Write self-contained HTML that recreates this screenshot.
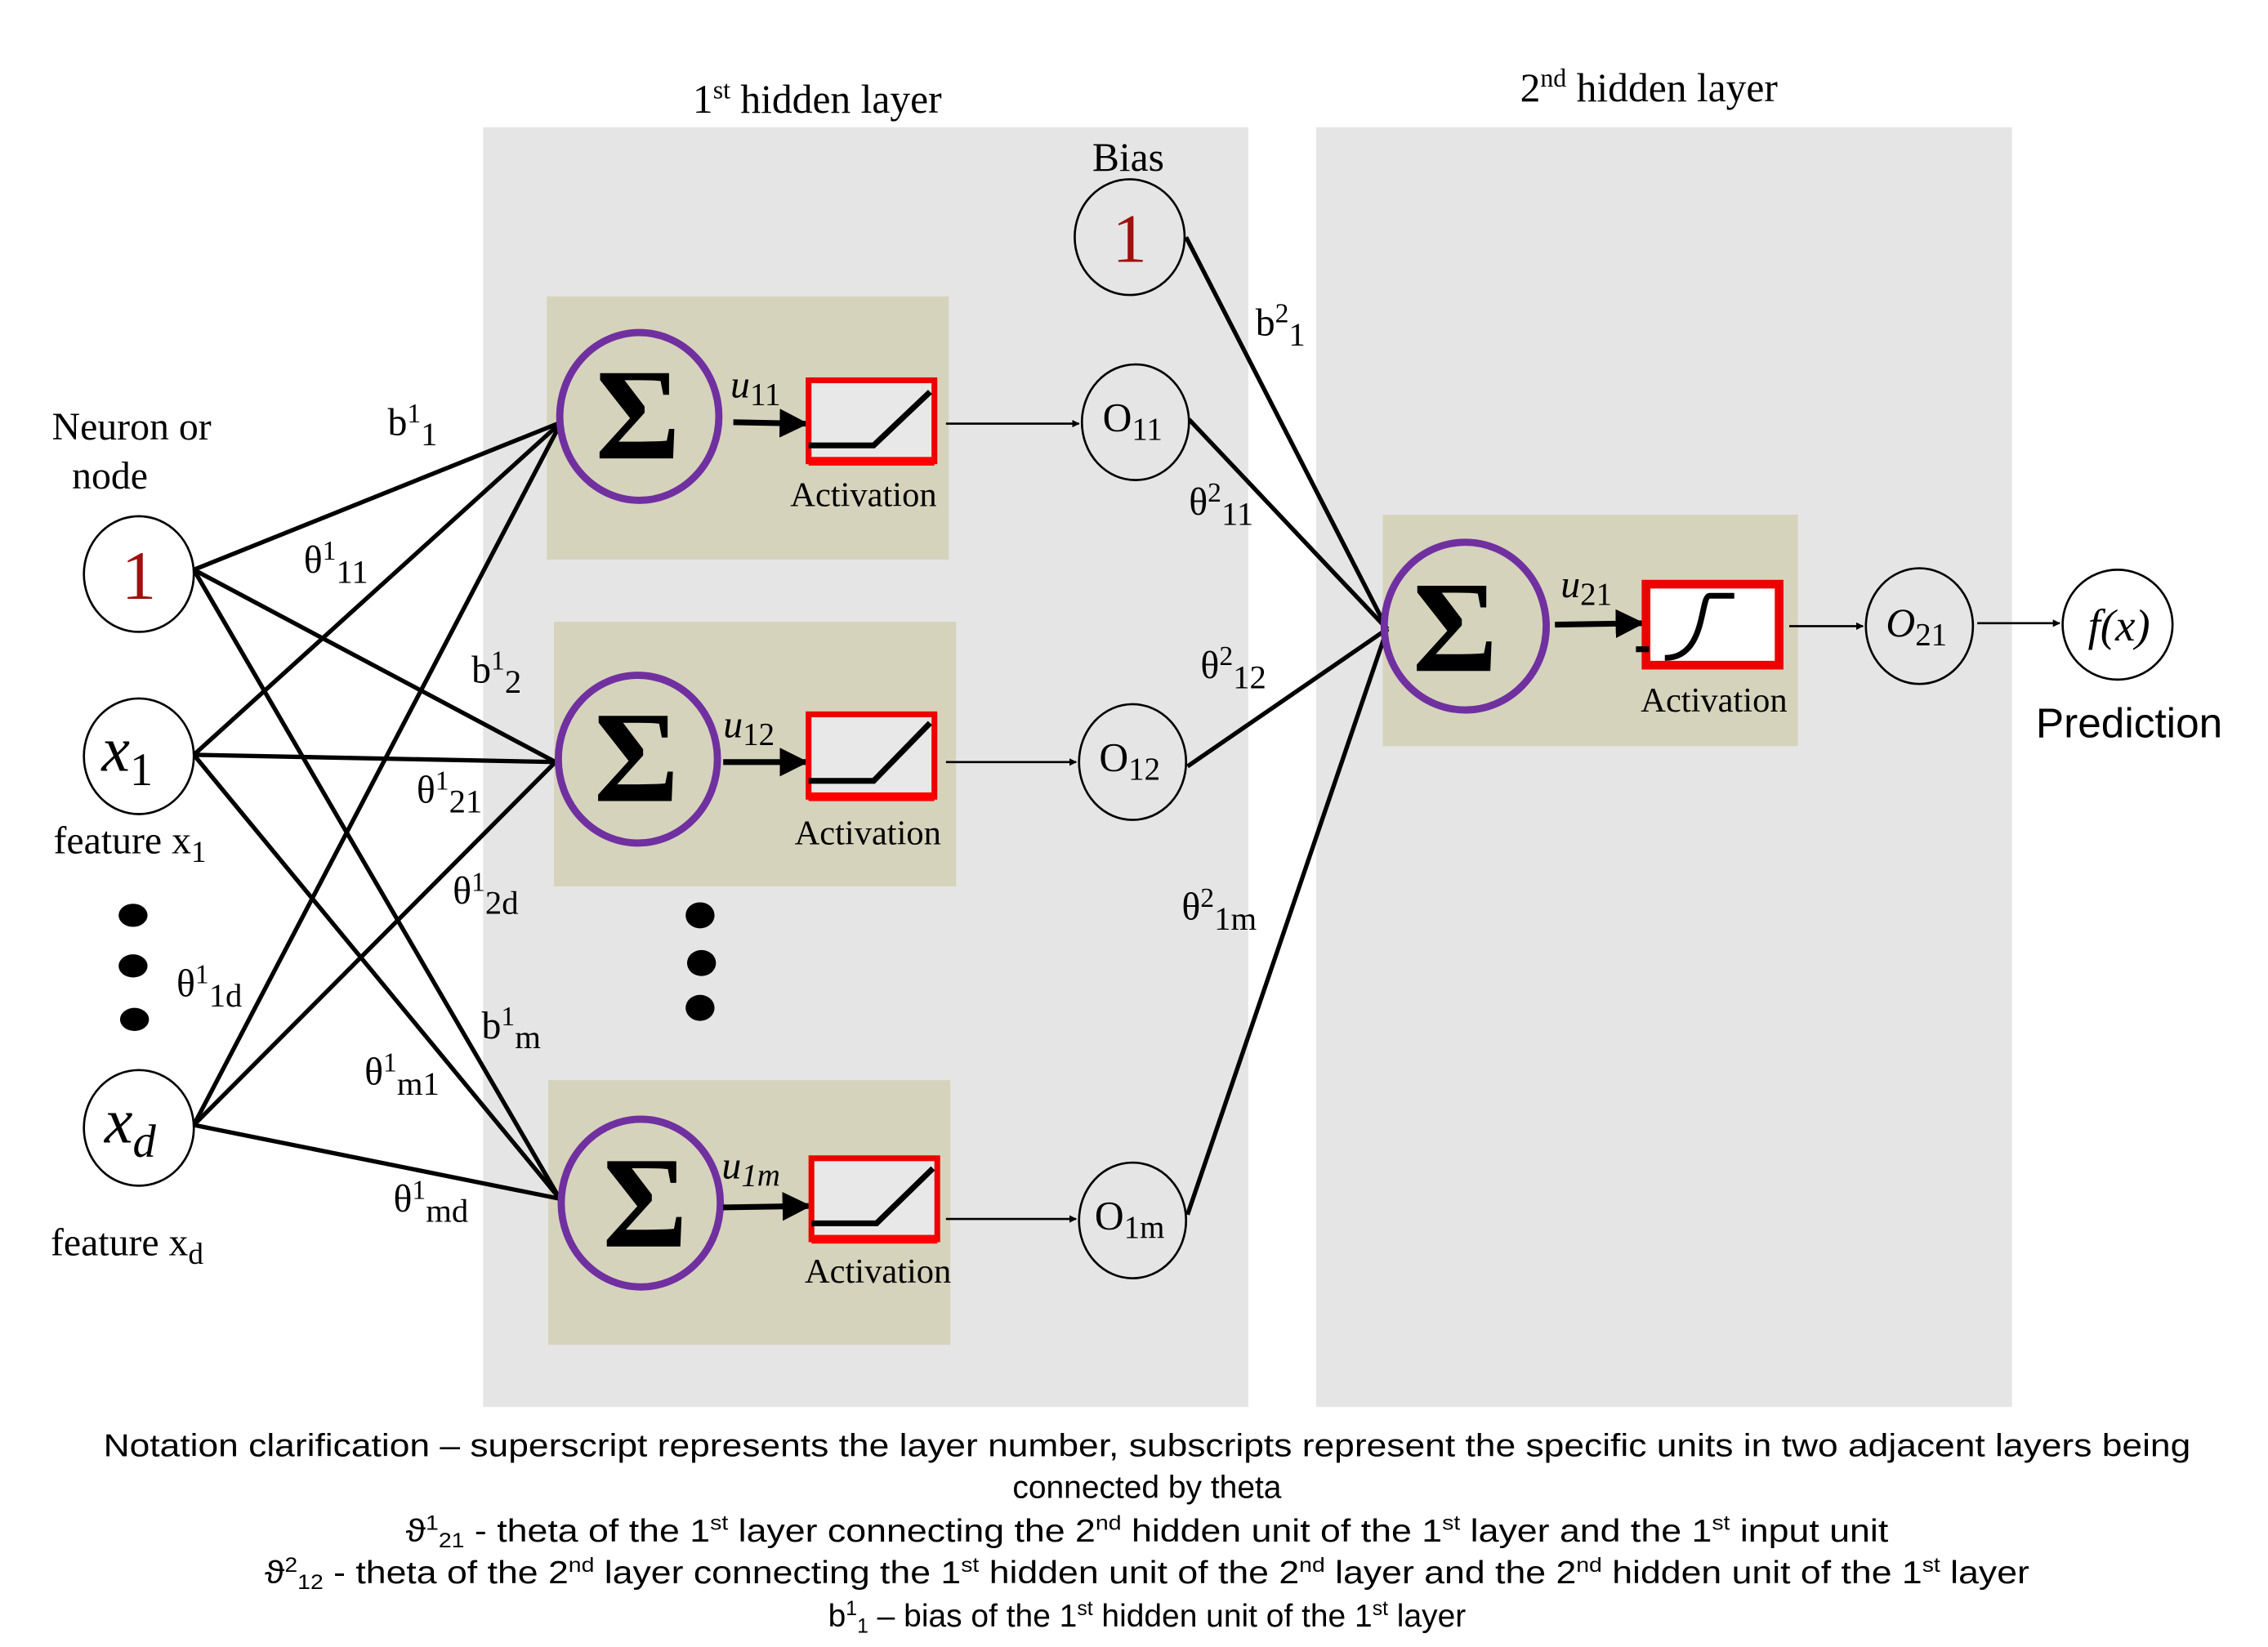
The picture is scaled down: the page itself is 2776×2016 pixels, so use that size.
<!DOCTYPE html>
<html><head><meta charset="utf-8"><style>
html,body{margin:0;padding:0;background:#fff;}
svg{display:block;}
.s{font-family:"Liberation Serif",serif;}
.a{font-family:"Liberation Sans",sans-serif;}
</style></head><body>
<svg width="2776" height="2016" viewBox="0 0 1568 1139" preserveAspectRatio="none" xmlns="http://www.w3.org/2000/svg">
<defs>
<marker id="ah" viewBox="0 0 10 10" refX="9" refY="5" markerWidth="5" markerHeight="5" orient="auto-start-reverse"><path d="M0,0 L10,5 L0,10 z" fill="#000"/></marker>
<marker id="ah2" viewBox="0 0 10 10" refX="9" refY="5" markerWidth="3.5" markerHeight="3.5" orient="auto"><path d="M0,0 L10,5 L0,10 z" fill="#000"/></marker>
</defs>
<rect width="1568" height="1139" fill="#fff"/>
<rect x="334" y="88" width="529" height="885" fill="#e5e5e5"/>
<rect x="910" y="88" width="481" height="885" fill="#e5e5e5"/>
<text class="s" x="565" y="78" font-size="28" text-anchor="middle">1<tspan font-size="18" dy="-10">st</tspan><tspan dy="10"> hidden layer</tspan></text>
<text class="s" x="1140" y="70" font-size="28" text-anchor="middle">2<tspan font-size="18" dy="-10">nd</tspan><tspan dy="10"> hidden layer</tspan></text>
<rect x="378" y="205" width="278" height="182" fill="#d6d3bc"/>
<rect x="383" y="430" width="278" height="183" fill="#d6d3bc"/>
<rect x="379" y="747" width="278" height="183" fill="#d6d3bc"/>
<rect x="956" y="356" width="287" height="160" fill="#d6d3bc"/>
<g stroke="#000" stroke-width="3" fill="none">
<line x1="134" y1="394" x2="388" y2="292"/>
<line x1="134" y1="394" x2="384" y2="527"/>
<line x1="134" y1="394" x2="387" y2="829"/>
<line x1="134" y1="522" x2="388" y2="292"/>
<line x1="134" y1="522" x2="384" y2="527"/>
<line x1="134" y1="522" x2="387" y2="829"/>
<line x1="134" y1="778" x2="388" y2="292"/>
<line x1="134" y1="778" x2="384" y2="527"/>
<line x1="134" y1="778" x2="387" y2="829"/>
<line x1="820" y1="164" x2="959" y2="435"/>
<line x1="822" y1="290" x2="959" y2="435"/>
<line x1="821" y1="530" x2="959" y2="435"/>
<line x1="821" y1="840" x2="959" y2="435"/>
</g>
<g fill="none" stroke="#7030a0" stroke-width="5">
<ellipse cx="442" cy="288" rx="55" ry="58"/>
<ellipse cx="441" cy="525" rx="55" ry="58"/>
<ellipse cx="443" cy="832" rx="55" ry="58"/>
<ellipse cx="1013" cy="433" rx="56" ry="58"/>
</g>
<g class="s" font-size="90" font-weight="bold" text-anchor="middle">
<text x="441" y="317">Σ</text>
<text x="440" y="554">Σ</text>
<text x="446" y="862">Σ</text>
<text x="1006" y="464">Σ</text>
</g>
<g stroke="#000" stroke-width="4" marker-end="url(#ah)">
<line x1="507" y1="292" x2="557" y2="293"/>
<line x1="500" y1="527" x2="557" y2="527"/>
<line x1="500" y1="835" x2="559" y2="834"/>
<line x1="1075" y1="432" x2="1135" y2="431"/>
</g>
<g class="s" font-size="27" font-style="italic">
<text x="505" y="275">u<tspan font-size="22" dy="5" font-style="normal">11</tspan></text>
<text x="500" y="510">u<tspan font-size="22" dy="5" font-style="normal">12</tspan></text>
<text x="499" y="815">u<tspan font-size="22" dy="5">1m</tspan></text>
<text x="1079" y="413">u<tspan font-size="22" dy="5" font-style="normal">21</tspan></text>
</g>
<g fill="#e8e8e8" stroke="#e00" stroke-width="4">
<rect x="559" y="263" width="87" height="56"/>
<rect x="559" y="494" width="87" height="57"/>
<rect x="561" y="801" width="87" height="56"/>
<rect x="1138" y="404" width="92" height="56" fill="#fff" stroke-width="6"/>
</g>
<g fill="#f00">
<rect x="559" y="316" width="87" height="6"/>
<rect x="559" y="548" width="87" height="6"/>
<rect x="561" y="854" width="87" height="6"/>
</g>
<g stroke="#000" stroke-width="4" fill="none">
<polyline points="559,308 604,308 643,271"/>
<polyline points="559,540 604,540 643,500"/>
<polyline points="561,846 606,846 645,808"/>
<path d="M1151,455 C1180,455 1175,412 1182,412 L1199,412"/>
<line x1="1131" y1="449" x2="1140" y2="449"/>
</g>
<g class="s" font-size="24" text-anchor="middle">
<text x="597" y="350">Activation</text>
<text x="600" y="584">Activation</text>
<text x="607" y="887">Activation</text>
<text x="1185" y="492">Activation</text>
</g>
<g stroke="#000" stroke-width="1.5" marker-end="url(#ah2)">
<line x1="654" y1="293" x2="746" y2="293"/>
<line x1="654" y1="527" x2="744" y2="527"/>
<line x1="654" y1="843" x2="744" y2="843"/>
<line x1="1237" y1="433" x2="1288" y2="433"/>
<line x1="1367" y1="431" x2="1424" y2="431"/>
</g>
<g fill="#fff" stroke="#000" stroke-width="1.5">
<ellipse cx="96" cy="397" rx="38" ry="40"/>
<ellipse cx="96" cy="523" rx="38" ry="40"/>
<ellipse cx="96" cy="780" rx="38" ry="40"/>
<ellipse cx="1464" cy="432" rx="38" ry="38"/>
</g>
<g fill="#e5e5e5" stroke="#000" stroke-width="1.5">
<ellipse cx="781" cy="164" rx="38" ry="40"/>
<ellipse cx="785" cy="292" rx="37" ry="40"/>
<ellipse cx="783" cy="527" rx="37" ry="40"/>
<ellipse cx="783" cy="844" rx="37" ry="40"/>
<ellipse cx="1327" cy="433" rx="37" ry="40"/>
</g>
<g class="s" text-anchor="middle">
<text x="96" y="414" font-size="48" fill="#a01010">1</text>
<text x="781" y="181" font-size="48" fill="#a01010">1</text>
<text x="88" y="533" font-size="44" font-style="italic">x<tspan font-size="32" dy="10" font-style="normal">1</tspan></text>
<text x="90" y="790" font-size="44" font-style="italic">x<tspan font-size="32" dy="10">d</tspan></text>
<text x="783" y="298" font-size="28">O<tspan font-size="22" dy="6">11</tspan></text>
<text x="781" y="533" font-size="28">O<tspan font-size="22" dy="6">12</tspan></text>
<text x="781" y="850" font-size="28">O<tspan font-size="22" dy="6">1m</tspan></text>
<text x="1325" y="440" font-size="28" font-style="italic">O<tspan font-size="22" dy="6" font-style="normal">21</tspan></text>
<text x="1465" y="443" font-size="31" font-style="italic">f(x)</text>
<text x="780" y="118" font-size="28">Bias</text>
<text x="91" y="304" font-size="27">Neuron or</text>
<text x="76" y="338" font-size="27">node</text>
</g>
<text class="s" x="37" y="590" font-size="27">feature x<tspan font-size="21" dy="6">1</tspan></text>
<text class="s" x="35" y="868" font-size="27">feature x<tspan font-size="21" dy="6">d</tspan></text>
<text class="a" x="1472" y="510" font-size="29" text-anchor="middle">Prediction</text>
<g fill="#000">
<ellipse cx="92" cy="633" rx="10" ry="8"/><ellipse cx="92" cy="668" rx="10" ry="8"/><ellipse cx="93" cy="705" rx="10" ry="8"/>
<ellipse cx="484" cy="633" rx="10" ry="9"/><ellipse cx="485" cy="666" rx="10" ry="9"/><ellipse cx="484" cy="697" rx="10" ry="9"/>
</g>
<g class="s" font-size="27">
<text x="268" y="301">b<tspan font-size="19" dy="-9">1</tspan><tspan font-size="23" dy="16">1</tspan></text>
<text x="210" y="396">θ<tspan font-size="19" dy="-9">1</tspan><tspan font-size="23" dy="16">11</tspan></text>
<text x="326" y="472">b<tspan font-size="19" dy="-9">1</tspan><tspan font-size="23" dy="16">2</tspan></text>
<text x="288" y="555">θ<tspan font-size="19" dy="-9">1</tspan><tspan font-size="23" dy="16">21</tspan></text>
<text x="313" y="625">θ<tspan font-size="19" dy="-9">1</tspan><tspan font-size="23" dy="16">2d</tspan></text>
<text x="122" y="689">θ<tspan font-size="19" dy="-9">1</tspan><tspan font-size="23" dy="16">1d</tspan></text>
<text x="333" y="718">b<tspan font-size="19" dy="-9">1</tspan><tspan font-size="23" dy="16">m</tspan></text>
<text x="252" y="750">θ<tspan font-size="19" dy="-9">1</tspan><tspan font-size="23" dy="16">m1</tspan></text>
<text x="272" y="838">θ<tspan font-size="19" dy="-9">1</tspan><tspan font-size="23" dy="16">md</tspan></text>
<text x="868" y="232">b<tspan font-size="19" dy="-9">2</tspan><tspan font-size="23" dy="16">1</tspan></text>
<text x="822" y="356">θ<tspan font-size="19" dy="-9">2</tspan><tspan font-size="23" dy="16">11</tspan></text>
<text x="830" y="469">θ<tspan font-size="19" dy="-9">2</tspan><tspan font-size="23" dy="16">12</tspan></text>
<text x="817" y="636">θ<tspan font-size="19" dy="-9">2</tspan><tspan font-size="23" dy="16">1m</tspan></text>
</g>
<g class="a" font-size="22" text-anchor="middle">
<text x="793" y="1007" textLength="1443" lengthAdjust="spacingAndGlyphs">Notation clarification – superscript represents the layer number, subscripts represent the specific units in two adjacent layers being</text>
<text x="793" y="1036">connected by theta</text>
<text x="793" y="1066" textLength="1025" lengthAdjust="spacingAndGlyphs">ϑ<tspan font-size="14" dy="-8">1</tspan><tspan font-size="14" dy="12">21</tspan><tspan dy="-4"> - theta of the 1</tspan><tspan font-size="14" dy="-8">st</tspan><tspan dy="8"> layer connecting the 2</tspan><tspan font-size="14" dy="-8">nd</tspan><tspan dy="8"> hidden unit of the 1</tspan><tspan font-size="14" dy="-8">st</tspan><tspan dy="8"> layer and the 1</tspan><tspan font-size="14" dy="-8">st</tspan><tspan dy="8"> input unit</tspan></text>
<text x="793" y="1095" textLength="1220" lengthAdjust="spacingAndGlyphs">ϑ<tspan font-size="14" dy="-8">2</tspan><tspan font-size="14" dy="12">12</tspan><tspan dy="-4"> - theta of the 2</tspan><tspan font-size="14" dy="-8">nd</tspan><tspan dy="8"> layer connecting the 1</tspan><tspan font-size="14" dy="-8">st</tspan><tspan dy="8"> hidden unit of the 2</tspan><tspan font-size="14" dy="-8">nd</tspan><tspan dy="8"> layer and the 2</tspan><tspan font-size="14" dy="-8">nd</tspan><tspan dy="8"> hidden unit of the 1</tspan><tspan font-size="14" dy="-8">st</tspan><tspan dy="8"> layer</tspan></text>
<text x="793" y="1125">b<tspan font-size="14" dy="-8">1</tspan><tspan font-size="14" dy="12">1</tspan><tspan dy="-4"> – bias of the 1</tspan><tspan font-size="14" dy="-8">st</tspan><tspan dy="8"> hidden unit of the 1</tspan><tspan font-size="14" dy="-8">st</tspan><tspan dy="8"> layer</tspan></text>
</g>
</svg>
</body></html>
